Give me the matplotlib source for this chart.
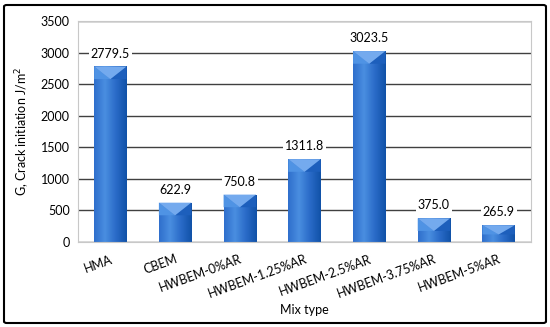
import matplotlib.pyplot as plt
import numpy as np
from matplotlib.patches import Polygon, FancyBboxPatch

mixes = ['HMA', 'CBEM', 'HWBEM-0%AR', 'HWBEM-1.25%AR', 'HWBEM-2.5%AR',
         'HWBEM-3.75%AR', 'HWBEM-5%AR']
g_values = [2779.5, 622.9, 750.8, 1311.8, 3023.5, 375.0, 265.9]

plt.rcParams['font.family'] = ['Lato', 'DejaVu Sans']

fig = plt.figure(figsize=(5.5, 3.27), dpi=100)
ax = fig.add_axes([78 / 550, 1 - 242 / 327, 453 / 550, 221 / 327])

x = np.arange(len(mixes))
width = 0.5
ax.set_xlim(-0.5, len(mixes) - 0.5)
ax.set_ylim(0, 3500)
ax.set_yticks(np.arange(0, 3501, 500))
ax.yaxis.grid(True, color='#404040', linewidth=1)
ax.set_axisbelow(True)

# horizontal gradient, light left -> dark right
grad = np.linspace(0, 1, 64).reshape(1, -1)
cmap = plt.matplotlib.colors.LinearSegmentedColormap.from_list(
    'bar', ['#2f6fcc', '#4a8ee0', '#2a6bc8', '#1152a8'])
bars = ax.bar(x, g_values, width, color='none', edgecolor='none', zorder=2)
for b, v in zip(bars, g_values):
    x0 = b.get_x()
    im = ax.imshow(grad, extent=[x0, x0 + width, 0, v], aspect='auto',
                   cmap=cmap, zorder=2)
    im.set_clip_path(b)
    # bevel at the top
    h = min(200, 0.55 * v)
    xc = x0 + width / 2
    ax.add_patch(Polygon([[x0, v], [xc, v - h], [x0, v - h]], closed=True,
                         color='#4f93e4', zorder=3, lw=0))
    ax.add_patch(Polygon([[x0 + width, v], [xc, v - h], [x0 + width, v - h]],
                         closed=True, color='#1d5fbc', zorder=3, lw=0))
    ax.add_patch(Polygon([[x0, v], [x0 + width, v], [xc, v - h]],
                         closed=True, color='#74aaee', zorder=3, lw=0))
    ax.text(xc, v + 110, f'{v:.1f}', ha='center', va='bottom',
            fontsize=9, zorder=4,
            bbox=dict(facecolor='white', edgecolor='none', pad=1.5))

ax.set_xticks(x)
ax.set_xticklabels(mixes, rotation=20, ha='right', rotation_mode='anchor',
                   fontsize=9)
ax.tick_params(axis='x', length=0, pad=8)
ax.tick_params(axis='y', length=0, labelsize=9, pad=6)
for side in ['top', 'right', 'left', 'bottom']:
    ax.spines[side].set_color('#c8c8c8')

ax.set_xlabel('Mix type', fontsize=9, labelpad=3)
ax.set_ylabel('G, Crack initiation J/m$^2$', fontsize=9, labelpad=6)

frame = FancyBboxPatch((4 / 550, 4 / 327), 542 / 550, 318 / 327,
                       boxstyle='round,pad=0,rounding_size=0.005',
                       transform=fig.transFigure, fill=False,
                       edgecolor='black', linewidth=1.5)
fig.patches.append(frame)

fig.savefig('out.png', dpi=100)
